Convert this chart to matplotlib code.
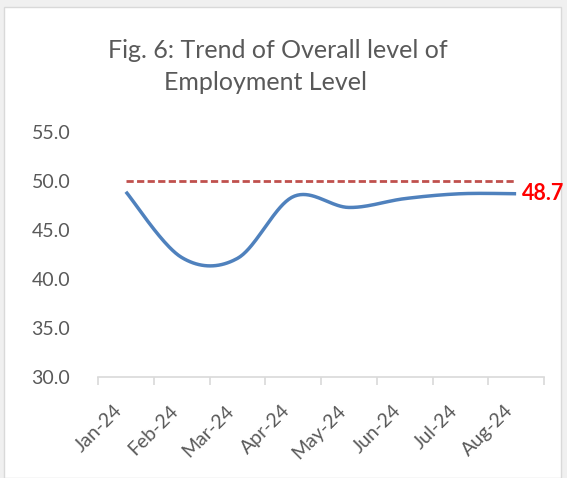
import numpy as np
import matplotlib
matplotlib.use("Agg")
import matplotlib.pyplot as plt
from matplotlib.patches import Rectangle

# data
months = ["Jan-24", "Feb-24", "Mar-24", "Apr-24", "May-24", "Jun-24", "Jul-24", "Aug-24"]
employment = [48.9, 42.2, 42.1, 48.4, 47.3, 48.2, 48.7, 48.7]
threshold = [50.0] * len(months)
title_lines = ["Fig. 6: Trend of Overall level of", "Employment Level"]

plt.rcParams['font.family'] = ['Lato', 'DejaVu Sans']


def smooth(y, n=40):
    # excel style smoothed line (catmull-rom as bezier)
    y = np.asarray(y, float)
    x = np.arange(len(y), dtype=float)
    xs, ys = [], []
    for i in range(len(y) - 1):
        y0 = y[i - 1] if i > 0 else y[i]
        y3 = y[i + 2] if i + 2 < len(y) else y[i + 1]
        x0 = x[i - 1] if i > 0 else x[i]
        x3 = x[i + 2] if i + 2 < len(y) else x[i + 1]
        p1 = (x[i], y[i])
        p2 = (x[i + 1], y[i + 1])
        c1 = (x[i] + (x[i + 1] - x0) / 6, y[i] + (y[i + 1] - y0) / 6)
        c2 = (x[i + 1] - (x3 - x[i]) / 6, y[i + 1] - (y3 - y[i]) / 6)
        t = np.linspace(0, 1, n)
        bx = (1-t)**3*p1[0] + 3*(1-t)**2*t*c1[0] + 3*(1-t)*t**2*c2[0] + t**3*p2[0]
        by = (1-t)**3*p1[1] + 3*(1-t)**2*t*c1[1] + 3*(1-t)*t**2*c2[1] + t**3*p2[1]
        xs.extend(bx)
        ys.extend(by)
    return np.array(xs), np.array(ys)


fig = plt.figure(figsize=(5.67, 4.78), dpi=100, facecolor='#f0f0f0')
fig.patches.append(Rectangle((4/567, 0.0), 557/567, 1 - 7/478, transform=fig.transFigure,
                             facecolor='white', edgecolor='#d9d9d9', lw=1, zorder=-5))

ax = fig.add_axes([98/567, 1 - 377/478, 446/567, 245/478])
ax.set_facecolor('none')
ax.set_zorder(2)

x = np.arange(len(months))
sx, sy = smooth(employment)
ax.plot(sx, sy, color='#4f81bd', lw=2.5, solid_capstyle='butt')
ax.plot(x, threshold, color='#c0504d', lw=2, dashes=(2.6, 1.2))
ax.text(x[-1] + 0.1, employment[-1], f"{employment[-1]:.1f}", color='#ff0000',
        fontsize=15.5, fontweight='bold', va='center', ha='left')

ax.set_xlim(-0.5, len(months) - 0.5)
ax.set_ylim(30, 55)
ax.set_yticks(np.arange(30, 56, 5))
ax.set_yticklabels([f"{v:.1f}" for v in np.arange(30, 56, 5)])
ax.set_xticks(x)
ax.set_xticklabels(months, rotation=45, ha='right', va='top')
ax.set_xticks(np.arange(-0.5, len(months), 1), minor=True)
ax.tick_params(axis='x', which='major', length=0, pad=18, labelsize=14, labelcolor='#595959')
ax.tick_params(axis='x', which='minor', length=6, color='#d9d9d9', width=1.2)
ax.tick_params(axis='y', length=0, pad=20, labelsize=14, labelcolor='#595959')
for s in ['top', 'right', 'left']:
    ax.spines[s].set_visible(False)
ax.spines['bottom'].set_color('#d9d9d9')
ax.spines['bottom'].set_linewidth(1.2)

fig.text(278/567, 1 - 50/478, title_lines[0], ha='center', va='center', fontsize=18,
         color='#595959')
fig.text(266/567, 1 - 82/478, title_lines[1], ha='center', va='center', fontsize=18,
         color='#595959')

fig.savefig('out.png', dpi=100, facecolor=fig.get_facecolor())
